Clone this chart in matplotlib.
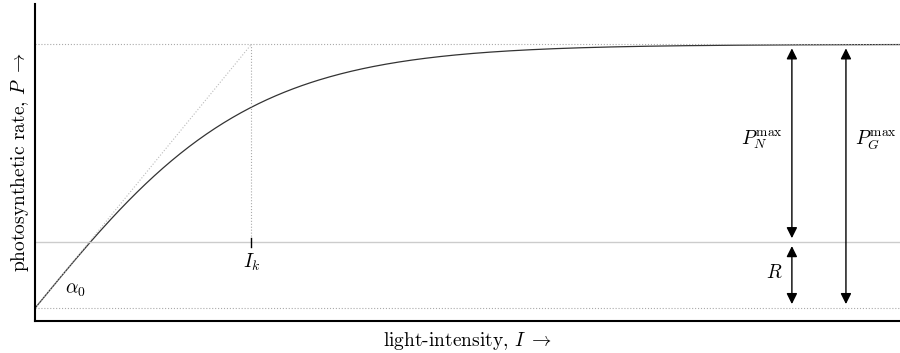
import numpy as np
import matplotlib.pyplot as plt

plt.rcParams['font.family'] = 'serif'
plt.rcParams['font.serif'] = ['cmr10']
plt.rcParams['mathtext.fontset'] = 'cm'
plt.rcParams['axes.unicode_minus'] = False

# model parameters (arbitrary units)
I_k = 1.0
P_G_max = 4.0
R = 1.0
P_N_max = P_G_max - R

I = np.linspace(0, 4, 400)
P = P_G_max * np.tanh(I / I_k) - R

fig, ax = plt.subplots(figsize=(9, 3.53), dpi=100)
fig.subplots_adjust(left=0.039, right=1.0, bottom=0.09, top=0.99)

ax.plot(I, P, color='#333333', lw=0.9)

# reference lines
ax.axhline(0, color='#cccccc', lw=1.0)
ax.axhline(P_N_max, color='#aaaaaa', lw=0.8, ls=':')
ax.axhline(-R, color='#aaaaaa', lw=0.8, ls=':')
ax.plot([0, I_k], [-R, P_N_max], color='#bbbbbb', lw=0.8, ls=':')
ax.plot([I_k, I_k], [0, P_N_max], color='#aaaaaa', lw=0.8, ls=':')
ax.plot([I_k, I_k], [-0.07, 0.07], color='black', lw=1.0)

# arrows
arr = dict(arrowstyle='<|-|>', color='black', lw=1.0, mutation_scale=16,
           shrinkA=0, shrinkB=0)
gap = 0.06
x_n, x_g = 3.5, 3.75
ax.annotate('', xy=(x_n, P_N_max - gap), xytext=(x_n, gap), arrowprops=arr)
ax.annotate('', xy=(x_n, -gap), xytext=(x_n, -R + gap), arrowprops=arr)
ax.annotate('', xy=(x_g, P_N_max - gap), xytext=(x_g, -R + gap), arrowprops=arr)

ax.text(3.36, 1.55, r'$P_N^{\mathrm{max}}$', fontsize=14, ha='center', va='center')
ax.text(3.89, 1.55, r'$P_G^{\mathrm{max}}$', fontsize=14, ha='center', va='center')
ax.text(3.42, -0.47, r'$R$', fontsize=14, ha='center', va='center')
ax.text(I_k, -0.3, r'$I_k$', fontsize=14, ha='center', va='center')
ax.text(0.185, -0.72, r'$\alpha_0$', fontsize=14, ha='center', va='center')

ax.set_xlim(0, 4)
ax.set_ylim(-1.2, 3.62)
ax.set_xticks([])
ax.set_yticks([])
for s in ['top', 'right']:
    ax.spines[s].set_visible(False)
for s in ['left', 'bottom']:
    ax.spines[s].set_linewidth(1.5)

ax.set_xlabel(r'light-intensity, $I\ \rightarrow$', fontsize=14, labelpad=6)
ax.set_ylabel(r'photosynthetic rate, $P\ \rightarrow$', fontsize=14, labelpad=3)

fig.savefig('out.png', dpi=100)
